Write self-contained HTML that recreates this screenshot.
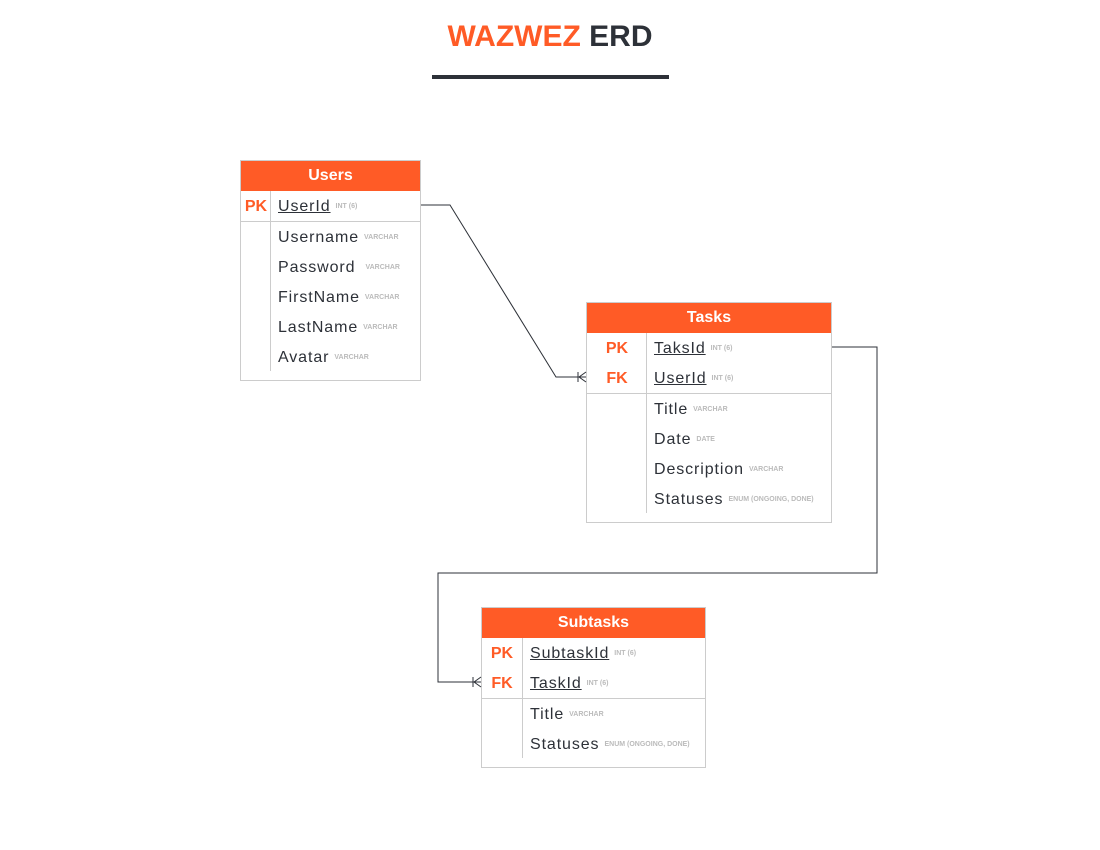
<!DOCTYPE html>
<html><head><style>
body{margin:0;width:1100px;height:850px;background:#fff;position:relative;font-family:"Liberation Sans",sans-serif;overflow:hidden}
.t{position:absolute;left:0;width:1100px;top:20px;text-align:center;font-size:30px;font-weight:bold;color:#2d3138}
.t span{color:#ff5b26}
.ul{position:absolute;left:432px;top:75px;width:237px;height:4px;background:#2d3138}
.box{position:absolute;border:1px solid #ccc;background:#fff;box-sizing:border-box}
.hd{height:30px;background:#ff5b26;color:#fff;font-weight:bold;font-size:16px;text-align:center;line-height:30px}
.row{height:30px;position:relative;font-size:16px;color:#2d3138;line-height:31px;letter-spacing:0.9px}
.k{position:absolute;left:0;text-align:center;color:#ff5b26;font-weight:bold;letter-spacing:0}
.n{position:absolute;white-space:nowrap}
.n u{text-decoration:underline}
.ty{font-size:7px;color:#bbb;font-weight:bold;margin-left:5px;vertical-align:middle;letter-spacing:0}
.sep{border-bottom:1px solid #ccc}
.dv{position:absolute;width:1px;background:#ccc}
</style></head><body>
<div class="t"><span>WAZWEZ</span> ERD</div>
<div class="ul"></div>

<div class="box" style="left:240px;top:160px;width:181px;height:221px">
<div class="hd">Users</div>
<div class="row sep"><span class="k" style="width:30px">PK</span><span class="n" style="left:37px"><u>UserId</u><span class="ty">INT (6)</span></span></div>
<div class="row"><span class="n" style="left:37px">Username<span class="ty">VARCHAR</span></span></div>
<div class="row"><span class="n" style="left:37px">Password<span class="ty" style="margin-left:10px">VARCHAR</span></span></div>
<div class="row"><span class="n" style="left:37px">FirstName<span class="ty">VARCHAR</span></span></div>
<div class="row"><span class="n" style="left:37px">LastName<span class="ty">VARCHAR</span></span></div>
<div class="row"><span class="n" style="left:37px">Avatar<span class="ty">VARCHAR</span></span></div>
<div class="dv" style="left:29px;top:30px;height:180px"></div>
</div>

<div class="box" style="left:586px;top:302px;width:246px;height:221px">
<div class="hd">Tasks</div>
<div class="row"><span class="k" style="width:60px">PK</span><span class="n" style="left:67px"><u>TaksId</u><span class="ty">INT (6)</span></span></div>
<div class="row sep"><span class="k" style="width:60px">FK</span><span class="n" style="left:67px"><u>UserId</u><span class="ty">INT (6)</span></span></div>
<div class="row"><span class="n" style="left:67px">Title<span class="ty">VARCHAR</span></span></div>
<div class="row"><span class="n" style="left:67px">Date<span class="ty">DATE</span></span></div>
<div class="row"><span class="n" style="left:67px">Description<span class="ty">VARCHAR</span></span></div>
<div class="row"><span class="n" style="left:67px">Statuses<span class="ty">ENUM (ONGOING, DONE)</span></span></div>
<div class="dv" style="left:59px;top:30px;height:180px"></div>
</div>

<div class="box" style="left:481px;top:607px;width:225px;height:161px">
<div class="hd">Subtasks</div>
<div class="row"><span class="k" style="width:40px">PK</span><span class="n" style="left:48px"><u>SubtaskId</u><span class="ty">INT (6)</span></span></div>
<div class="row sep"><span class="k" style="width:40px">FK</span><span class="n" style="left:48px"><u>TaskId</u><span class="ty">INT (6)</span></span></div>
<div class="row"><span class="n" style="left:48px">Title<span class="ty">VARCHAR</span></span></div>
<div class="row"><span class="n" style="left:48px">Statuses<span class="ty">ENUM (ONGOING, DONE)</span></span></div>
<div class="dv" style="left:40px;top:30px;height:120px"></div>
</div>

<svg style="position:absolute;left:0;top:0" width="1100" height="850">
<g fill="none" stroke="#2d3138" stroke-width="1">
<polyline points="421,205 450,205 556,377 586,377"/>
<line x1="578" y1="372" x2="578" y2="382"/>
<polyline points="586,372 579,377 586,382"/>
<polyline points="832,347 877,347 877,573 438,573 438,682 481,682"/>
<line x1="473" y1="677" x2="473" y2="687"/>
<polyline points="481,677 474,682 481,687"/>
</g>
</svg>
</body></html>
